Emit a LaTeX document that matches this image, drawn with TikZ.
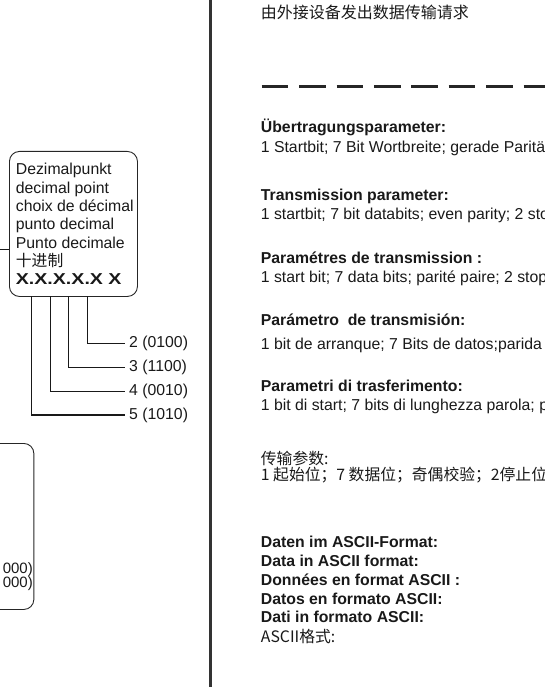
\documentclass[tikz,border=0pt]{standalone}
\usepackage{fontspec}
\setmainfont{Liberation Sans}
\newfontfamily\cjk{Noto Sans CJK SC}
\begin{document}
\begin{tikzpicture}[x=1pt,y=-1pt,
  txt/.style={anchor=base west, inner sep=0pt, text=black!90, font=\fontsize{15.8}{18}\selectfont},
  btxt/.style={txt, font=\fontsize{15.8}{18}\selectfont\bfseries},
  zh/.style={txt, font=\fontsize{15.8}{18}\selectfont\cjk},
  code/.style={anchor=west, inner ysep=0pt, inner xsep=4.5pt, text=black!90, font=\fontsize{15.8}{18}\selectfont},
  frame/.style={draw=black!85, line width=0.9pt, rounded corners=10pt},
  conn/.style={draw=black!90, line width=1.1pt},
  divider/.style={draw=black!80, line width=2.3pt},
  dashline/.style={draw=black!85, line width=3pt, dash pattern=on 26.7pt off 10.7pt}]
\useasboundingbox (0,0) rectangle (545,687);
\clip (0,0) rectangle (545,687);

% divider
\coordinate (dvT) at (210.5,-5);
\coordinate (dvB) at (210.5,692);
\draw[divider] (dvT) -- (dvB);

% decimal point box
\node[frame, anchor=north west, minimum width=128pt, minimum height=145pt, inner sep=0pt] (dpbox) at (9,151) {};
\node[txt] (d1) at (15.7,175) {Dezimalpunkt};
\node[txt] (d2) at (15.7,193.3) {decimal point};
\node[txt] (d3) at (15.7,211.6) {choix de décimal};
\node[txt] (d4) at (15.7,229.9) {punto decimal};
\node[txt] (d5) at (15.7,248.2) {Punto decimale};
\node[zh]  (d6) at (15.7,266.5) {十进制};
\node[txt, font=\fontsize{15.8}{18}\selectfont\bfseries] (d7) at (15.7,284.8) {\scalebox{1.24}[1]{X.X.X.X.X X}};

\coordinate (lin) at (-2,249);
\draw[conn, line width=0.9pt] (lin) -- (lin -| dpbox.west);

% digit selectors
\coordinate (t2) at (87.3,296);
\coordinate (t3) at (68.8,296);
\coordinate (t4) at (50.2,296);
\coordinate (t5) at (31.7,296);
\node[code] (l2) at (124.5,343.5) {2 (0100)};
\node[code] (l3) at (124.5,367.5) {3 (1100)};
\node[code] (l4) at (124.5,391.2) {4 (0010)};
\node[code] (l5) at (124.5,415) {5 (1010)};
\draw[conn] (t2) |- (l2.west);
\draw[conn] (t3) |- (l3.west);
\draw[conn] (t4) |- (l4.west);
\draw[conn] (t5) |- (l5.west);

% lower left box (cut at the left edge)
\node[frame, anchor=north east, minimum width=80pt, minimum height=166pt, inner sep=0pt] (lbox) at (34.3,443) {};
\node[anchor=base east, inner sep=0pt, text=black!90, font=\fontsize{15}{18}\selectfont] (z1) at (33,587)
  {\def\arraystretch{0.58}\begin{tabular}[b]{@{}r@{}}000)\\000)\end{tabular}};

% right column
\node[zh, font=\fontsize{16}{18}\selectfont\cjk] (req) at (260.7,19) {由外接设备发出数据传输请求};
\coordinate (dashL) at (261.7,86.7);
\coordinate (dashR) at (560,86.7);
\draw[dashline] (dashL) -- (dashR);

\node[btxt] (de1) at (260.7,132.7) {Übertragungsparameter:};
\node[txt]  (de2) at (260.7,152.3) {1 Startbit; 7 Bit Wortbreite; gerade Parität};
\node[btxt] (en1) at (260.7,200.7) {Transmission parameter:};
\node[txt]  (en2) at (260.7,219.3) {1 startbit; 7 bit databits; even parity; 2 sto};
\node[btxt] (fr1) at (260.7,263.3) {Paramétres de transmission :};
\node[txt]  (fr2) at (260.7,282.7) {1 start bit; 7 data bits; parité paire; 2 stop};
\node[btxt] (es1) at (260.7,325) {Parámetro\ \ de transmisión:};
\node[txt]  (es2) at (260.7,349) {1 bit de arranque; 7 Bits de datos;parida};
\node[btxt] (it1) at (260.7,391.7) {Parametri di trasferimento:};
\node[txt]  (it2) at (260.7,410) {1 bit di start; 7 bits di lunghezza parola; p};
\node[zh]   (zh1) at (260.7,464.3) {传输参数:};
\node[zh]   (zh2) at (260.7,480) {1 起始位；7 数据位；奇偶校验；2停止位};

\node[btxt] (a1) at (260.7,547.3) {Daten im ASCII-Format:};
\node[btxt] (a2) at (260.7,566.7) {Data in ASCII format:};
\node[btxt] (a3) at (260.7,585.7) {Données en format ASCII :};
\node[btxt] (a4) at (260.7,604) {Datos en formato ASCII:};
\node[btxt] (a5) at (260.7,622.7) {Dati in formato ASCII:};
\node[zh]   (a6) at (260.7,642.3) {ASCII格式:};
\end{tikzpicture}
\end{document}
